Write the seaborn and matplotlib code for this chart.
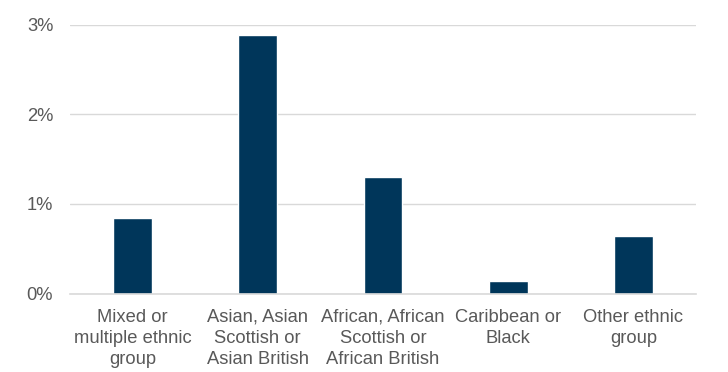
import matplotlib
matplotlib.use("Agg")
import matplotlib.pyplot as plt
import seaborn as sns
import pandas as pd
from matplotlib.ticker import FuncFormatter

categories = ["Mixed or\nmultiple ethnic\ngroup", "Asian, Asian\nScottish or\nAsian British",
              "African, African\nScottish or\nAfrican British", "Caribbean or\nBlack", "Other ethnic\ngroup"]
values = [0.84, 2.89, 1.30, 0.14, 0.64]
yticks = [0, 1, 2, 3]

sns.set_theme(style="white")
plt.rcParams['font.family'] = ['Liberation Sans', 'DejaVu Sans']

df = pd.DataFrame({"cat": categories, "val": values})
fig = plt.figure(figsize=(7.28, 3.72), dpi=100)
ax = fig.add_axes([0.096, 0.211, 0.86, 0.722])
sns.barplot(data=df, x="cat", y="val", color="#00365A", saturation=1, width=0.31, ax=ax)

ax.set_ylim(0, 3)
ax.set_yticks(yticks)
ax.yaxis.set_major_formatter(FuncFormatter(lambda v, p: f"{v:.0f}%"))
ax.grid(axis="y", color="#D9D9D9", linewidth=1.0)
ax.set_axisbelow(True)
for s in ["top", "right", "left"]:
    ax.spines[s].set_visible(False)
ax.spines["bottom"].set_color("#D9D9D9")
ax.spines["bottom"].set_linewidth(1.2)
ax.tick_params(axis="both", length=0, labelsize=13.2, colors="#595959")
ax.tick_params(axis="x", pad=11)
ax.tick_params(axis="y", pad=12)
for t in ax.get_xticklabels():
    t.set_linespacing(1.3)
ax.set_xlabel("")
ax.set_ylabel("")
fig.savefig("out.png", dpi=100)
